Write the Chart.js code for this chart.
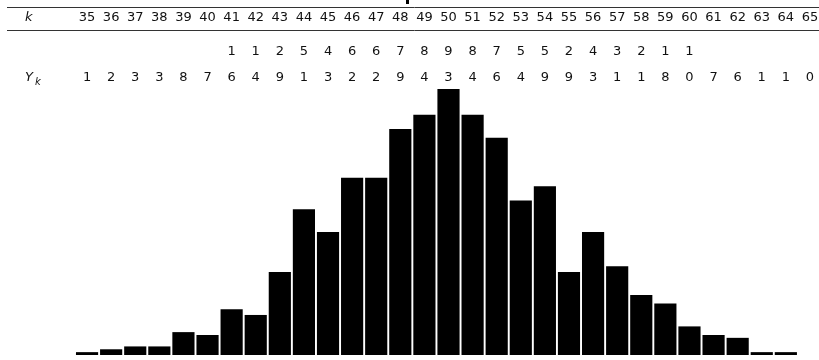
<!DOCTYPE html>
<html>
<head>
<meta charset="utf-8">
<script src="https://cdn.jsdelivr.net/npm/chart.js@4/dist/chart.umd.min.js"></script>
<style>
  html, body { margin: 0; padding: 0; background: #fff; overflow: hidden; }
  #wrap { width: 822px; height: 360px; }
</style>
</head>
<body>
<div id="wrap"><canvas id="chart"></canvas></div>
<script>
"use strict";

// Data
var kValues = [35, 36, 37, 38, 39, 40, 41, 42, 43, 44, 45, 46, 47, 48, 49, 50,
               51, 52, 53, 54, 55, 56, 57, 58, 59, 60, 61, 62, 63, 64, 65];
var yValues = [1, 2, 3, 3, 8, 7, 16, 14, 29, 51, 43, 62, 62, 79, 84, 93,
               84, 76, 54, 59, 29, 43, 31, 21, 18, 10, 7, 6, 1, 1, 0];

var fontFamily = "'DejaVu Sans', sans-serif";

// Table drawn above the bars (k row and the two digit rows of Y_k)
var tablePlugin = {
    id: 'tablePlugin',
    afterDraw: function (chart) {
        var ctx = chart.ctx;
        var xScale = chart.scales.x;
        var right = chart.width;

        ctx.save();
        ctx.strokeStyle = '#333';
        ctx.lineWidth = 1;
        ctx.beginPath();
        ctx.moveTo(7, 7.5);
        ctx.lineTo(right, 7.5);
        ctx.moveTo(7, 30.5);
        ctx.lineTo(right, 30.5);
        ctx.stroke();

        // cut-off mark of the title above
        ctx.fillStyle = '#000';
        ctx.fillRect(406, 0, 3, 4);

        ctx.fillStyle = '#111';
        ctx.textBaseline = 'middle';
        ctx.textAlign = 'left';
        ctx.font = 'italic 13px ' + fontFamily;
        ctx.fillText('k', 25, 18);
        ctx.fillText('Y', 25, 78);
        ctx.font = 'italic 10px ' + fontFamily;
        ctx.fillText('k', 35, 82);

        ctx.textAlign = 'center';
        ctx.font = '13px ' + fontFamily;
        kValues.forEach(function (k, i) {
            var x = xScale.getPixelForValue(i);
            ctx.fillText(String(k), x, 18);
            var v = yValues[i];
            var tens = Math.floor(v / 10);
            if (tens > 0) {
                ctx.fillText(String(tens), x, 52);
            }
            ctx.fillText(String(v % 10), x, 78);
        });
        ctx.restore();
    }
};

var ctx = document.getElementById('chart').getContext('2d');
var chart = new Chart(ctx, {
    type: 'bar',
    data: {
        labels: kValues.map(String),
        datasets: [{
            label: 'Y_k',
            data: yValues,
            backgroundColor: '#000000',
            borderWidth: 0,
            categoryPercentage: 1.0,
            barPercentage: 0.92
        }]
    },
    options: {
        responsive: true,
        maintainAspectRatio: false,
        animation: false,
        layout: {
            padding: { left: 75, right: 0, top: 69, bottom: 5 }
        },
        plugins: {
            legend: { display: false },
            title: { display: false },
            tooltip: { enabled: false }
        },
        scales: {
            x: {
                display: false,
                grid: { display: false }
            },
            y: {
                display: false,
                min: 0,
                max: 100,
                grid: { display: false }
            }
        }
    },
    plugins: [tablePlugin]
});
</script>
</body>
</html>
